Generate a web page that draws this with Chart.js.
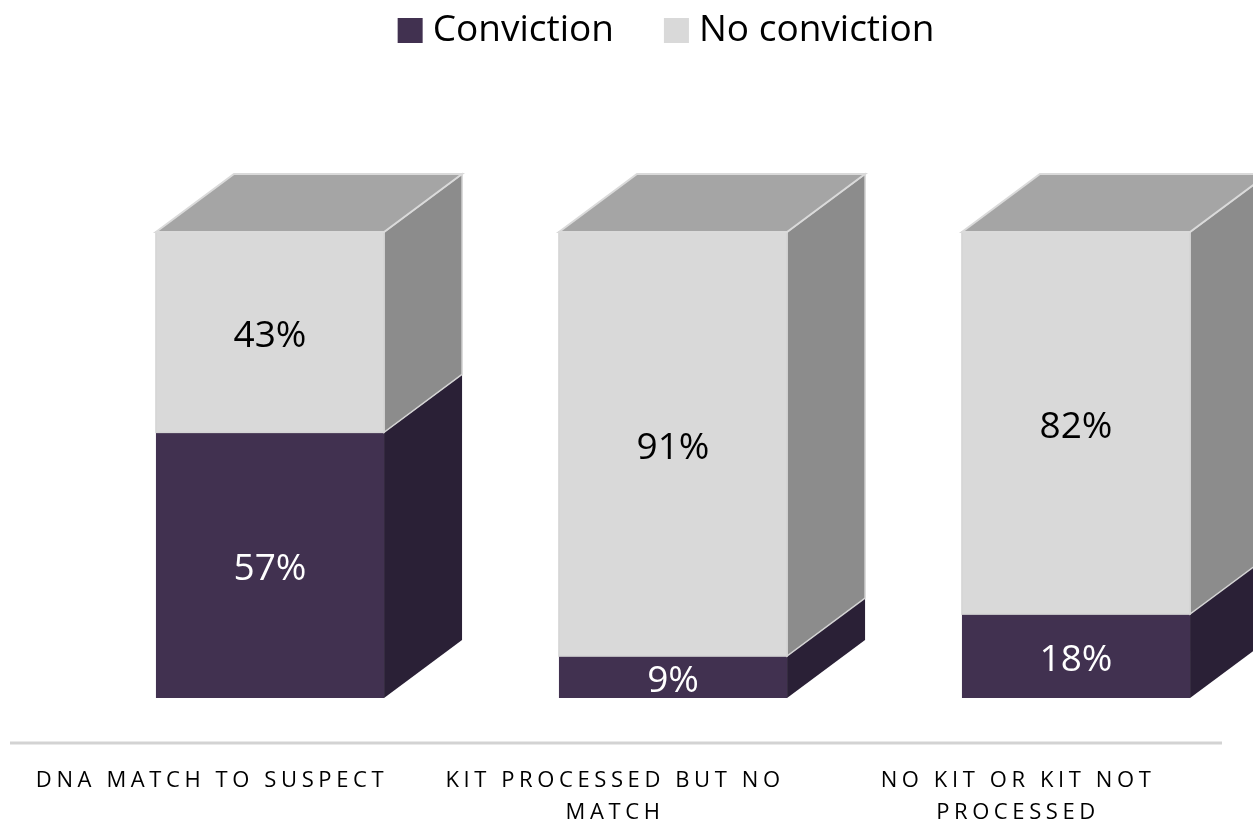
<!DOCTYPE html>
<html>
<head>
<meta charset="utf-8">
<script src="https://cdn.jsdelivr.net/npm/chart.js@4.4.1/dist/chart.umd.min.js"></script>
<style>
  html, body { margin: 0; padding: 0; background: #fff; overflow: hidden; }
  #wrap { width: 1253px; height: 824px; }
</style>
</head>
<body>
<div id="wrap"><canvas id="convictionChart"></canvas></div>
<script>
// data
const categories = [
  ["DNA MATCH TO SUSPECT"],
  ["KIT PROCESSED BUT NO", "MATCH"],
  ["NO KIT OR KIT NOT", "PROCESSED"]
];
const conviction = [57, 9, 18];
const noConviction = [43, 91, 82];
const seriesNames = ["Conviction", "No conviction"];

const FONT = "'Open Sans', 'Liberation Sans', sans-serif";
const frontColors = ["#413150", "#d9d9d9"];
const sideColors = ["#2a2036", "#8c8c8c"];
const labelColors = ["#ffffff", "#000000"];
const DX = 78, DY = 58;

// fake 3d boxes, value labels, floor, legend and category labels
const box3d = {
  id: "box3d",
  afterDatasetsDraw(chart) {
    const ctx = chart.ctx;
    const area = chart.chartArea;
    ctx.save();

    // floor edge
    ctx.strokeStyle = "#d3d3d3";
    ctx.lineWidth = 3;
    ctx.beginPath();
    ctx.moveTo(10, area.bottom + 45);
    ctx.lineTo(chart.width - 31, area.bottom + 45);
    ctx.stroke();

    const nSets = chart.data.datasets.length;
    chart.data.labels.forEach((lab, i) => {
      for (let d = 0; d < nSets; d++) {
        const bar = chart.getDatasetMeta(d).data[i];
        const left = bar.x - bar.width / 2;
        const right = bar.x + bar.width / 2;
        const top = Math.min(bar.y, bar.base);
        const bottom = Math.max(bar.y, bar.base);

        // side face
        ctx.fillStyle = sideColors[d];
        ctx.beginPath();
        ctx.moveTo(right, top);
        ctx.lineTo(right + DX, top - DY);
        ctx.lineTo(right + DX, bottom - DY);
        ctx.lineTo(right, bottom);
        ctx.closePath();
        ctx.fill();
        if (d === 1) {
          ctx.strokeStyle = "#d4d4d4";
          ctx.lineWidth = 1.5;
          ctx.stroke();
          ctx.strokeRect(left, top, bar.width, bottom - top);
        }

        // top face on the highest segment
        if (d === nSets - 1) {
          ctx.fillStyle = "#a5a5a5";
          ctx.beginPath();
          ctx.moveTo(left, top);
          ctx.lineTo(left + DX, top - DY);
          ctx.lineTo(right + DX, top - DY);
          ctx.lineTo(right, top);
          ctx.closePath();
          ctx.fill();
          ctx.strokeStyle = "#dadada";
          ctx.lineWidth = 2;
          ctx.stroke();
        }

        // value label
        const v = chart.data.datasets[d].data[i];
        ctx.fillStyle = labelColors[d];
        ctx.font = "37px " + FONT;
        ctx.textAlign = "center";
        ctx.textBaseline = "middle";
        ctx.fillText(v + "%", bar.x, (top + bottom) / 2 + 4);
      }
    });
    ctx.restore();
  },
  afterDraw(chart) {
    const ctx = chart.ctx;
    const area = chart.chartArea;
    const xs = chart.scales.x;
    ctx.save();

    // legend
    ctx.font = "37px " + FONT;
    ctx.textBaseline = "middle";
    ctx.textAlign = "left";
    const box = 25, gap = 10, itemGap = 50;
    const widths = seriesNames.map(s => ctx.measureText(s).width);
    const total = widths.reduce((a, w) => a + box + gap + w, 0) + itemGap * (seriesNames.length - 1);
    let lx = (area.left + area.right) / 2 - 7 - total / 2;
    seriesNames.forEach((s, k) => {
      ctx.fillStyle = frontColors[k];
      ctx.fillRect(lx, 18, box, box);
      ctx.fillStyle = "#000";
      ctx.fillText(s, lx + box + gap, 30);
      lx += box + gap + widths[k] + itemGap;
    });

    // category labels, set on the front edge of the floor
    ctx.font = "22px " + FONT;
    ctx.letterSpacing = "4.6px";
    ctx.textAlign = "center";
    categories.forEach((lines, i) => {
      const cx = xs.getPixelForValue(i) - 60;
      lines.forEach((line, j) => {
        ctx.fillText(line, cx + 2, area.bottom + 83 + j * 32);
      });
    });
    ctx.restore();
  }
};

const ctx = document.getElementById("convictionChart");

new Chart(ctx, {
  type: "bar",
  data: {
    labels: categories,
    datasets: [
      {
        label: seriesNames[0],
        data: conviction,
        backgroundColor: frontColors[0],
        borderWidth: 0,
        clip: false
      },
      {
        label: seriesNames[1],
        data: noConviction,
        backgroundColor: frontColors[1],
        borderWidth: 0,
        clip: false
      }
    ]
  },
  options: {
    responsive: true,
    maintainAspectRatio: false,
    animation: false,
    categoryPercentage: 0.566,
    barPercentage: 1,
    layout: { padding: { left: 270, right: 177, top: 232, bottom: 126 } },
    scales: {
      x: { stacked: true, offset: false, display: false },
      y: { stacked: true, min: 0, max: 100, display: false }
    },
    plugins: {
      legend: { display: false },
      tooltip: { enabled: false }
    }
  },
  plugins: [box3d]
});
</script>
</body>
</html>
